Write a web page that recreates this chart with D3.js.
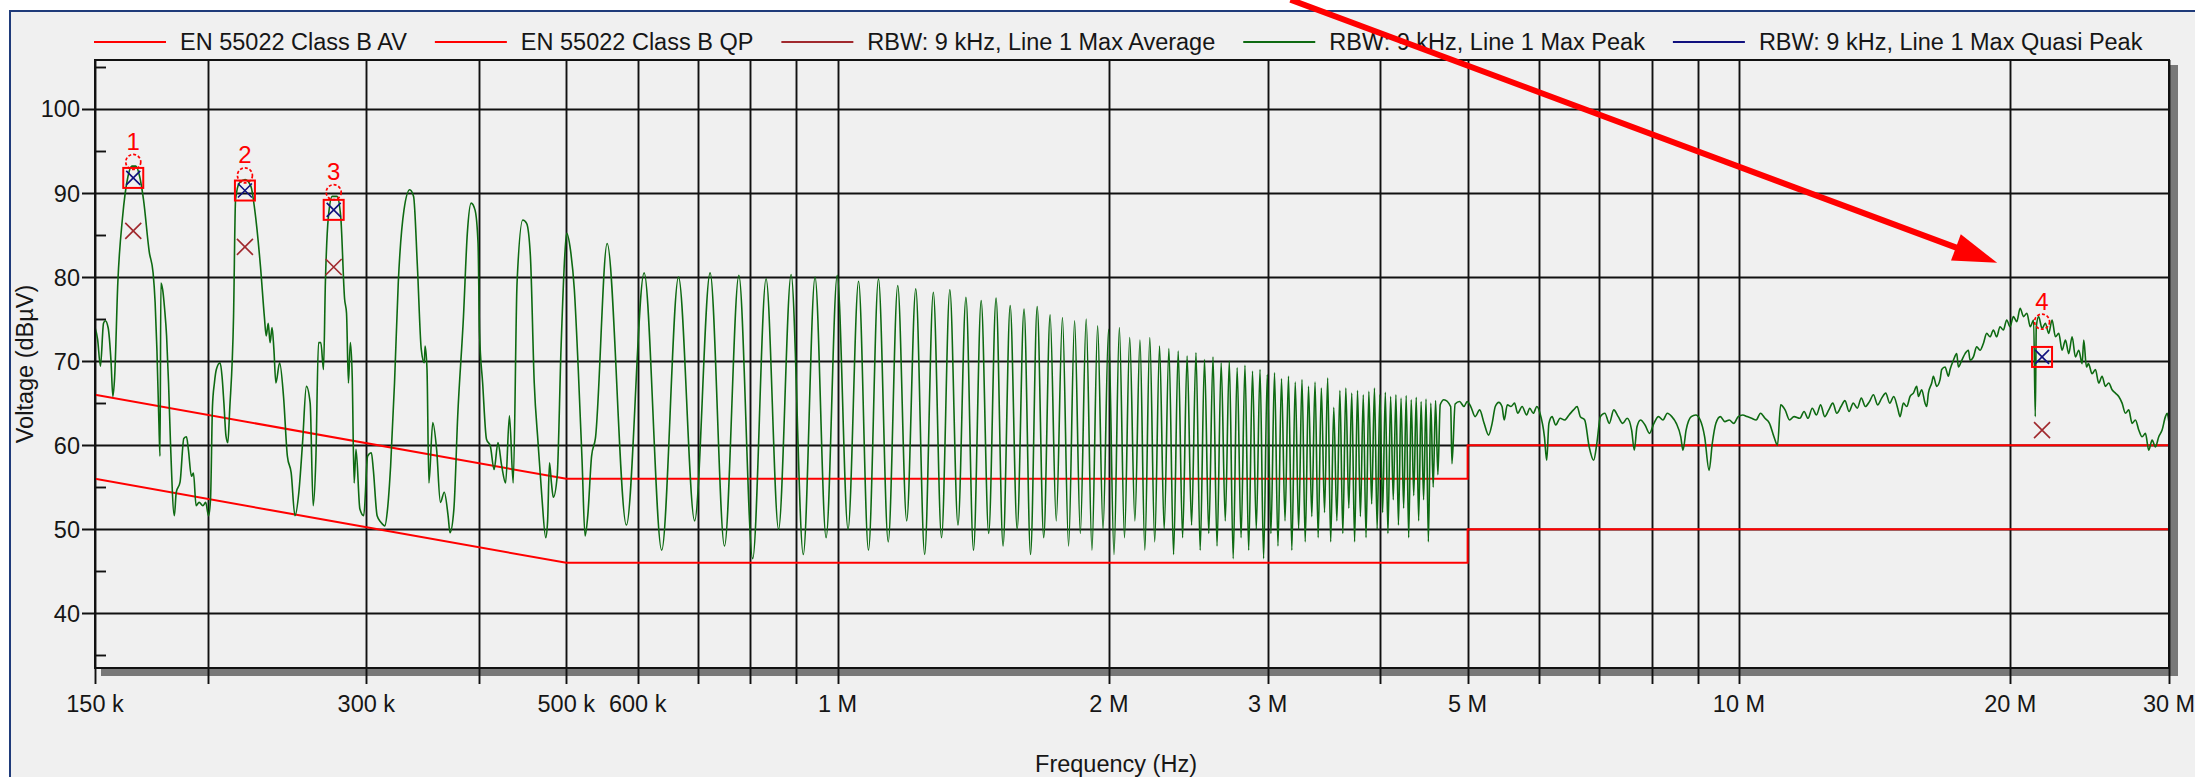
<!DOCTYPE html>
<html>
<head>
<meta charset="utf-8">
<script src="https://cdn.jsdelivr.net/npm/d3@7"></script>
<style>
  html, body { margin: 0; padding: 0; background: #ffffff; }
  svg { display: block; font-family: "Liberation Sans", Arial, sans-serif; }
</style>
</head>
<body>
<svg id="chart" width="2195" height="779"></svg>
<script>
// ---------------- data ----------------
const legendNames = [
  "EN 55022 Class B AV",
  "EN 55022 Class B QP",
  "RBW: 9 kHz, Line 1 Max Average",
  "RBW: 9 kHz, Line 1 Max Peak",
  "RBW: 9 kHz, Line 1 Max Quasi Peak"
];

// limit lines, [kHz, dBµV]
const limitAV = [[150, 56], [500, 46], [5000, 46], [5000, 50], [30000, 50]];
const limitQP = [[150, 66], [500, 56], [5000, 56], [5000, 60], [30000, 60]];

// max peak trace, 150 kHz – 540 kHz
const peakLow = [
  [150,74],[151,72.6],[152.1,69.4],[153.3,74.5],[154,74.8],[155.1,74],[156.3,69.8],[157,65.8],[157.7,68],
  [159,79.3],[160.9,87],[163.2,92],[164.8,93.2],[166.5,93.2],[168.1,92],[169.8,89.2],[172.3,83],[174,80.5],
  [174.9,77],[175.7,71.4],[176.6,62.7],[177.1,58.7],[177.5,79.3],[178.3,78.5],[179.2,76.2],[180.1,73],
  [181,67.4],[181.9,60.3],[183.7,51.6],[184.6,54.4],[186.4,55.6],[188.2,60.8],[189.5,61],[190.4,59.5],
  [191.9,56.3],[192.9,56.7],[194.2,52.8],[195.7,53.2],[197.6,52.8],[199,53.2],[200.5,51.6],[201.5,53.6],
  [202.5,64.6],[203.5,67.4],[204.5,69],[206.5,69.8],[207.5,68.2],[208.5,65],[209.6,61.1],[210.6,60.3],
  [211.6,64.2],[213.7,75.3],[214.8,89.2],[216.9,91.2],[220.1,91.6],[223.4,90.8],[225.6,88],[228.9,81.3],
  [231.2,75.3],[232.3,73],[233.5,74.5],[234.6,72.2],[235.8,74],[236.9,71.4],[238.1,67.4],[240.4,69.8],
  [242.8,65.8],[245.2,58.7],[247.6,56.7],[250,51.6],[252.5,54.4],[254.9,60.3],[257.4,67],[259.9,65],
  [261.9,52.8],[263.7,58.3],[265.5,72.2],[267.1,72.2],[268.9,69],[270.2,79.3],[272.3,87.2],[275,89.6],
  [278.3,89.6],[281,87.2],[283.8,77.4],[285.2,75.7],[286.6,67.4],[288,72.2],[289.4,68],[290.8,55.5],
  [292.2,59.5],[295.1,52.4],[298,51.6],[301,58.7],[303.9,59.1],[305.4,57.1],[308.4,51.6],[311.5,50.8],
  [314.5,50.4],[316.7,52.4],[319.2,57.5],[322.4,67.4],[325.5,79.3],[330.3,88],[335.2,90.4],[338.5,89.6],
  [341.8,81.3],[345.2,71.4],[347.9,69.8],[348.6,71.8],[350.3,69],[352,55.5],[355.5,62.7],[359,59.5],
  [362.5,53.2],[366.1,54.4],[369.7,51.6],[371.5,49.6],[375.2,52.4],[378.9,63.5],[384.5,75.3],[388.3,85.2],
  [392.1,88.8],[396,88],[399.1,84],[400.6,73.4],[403.8,67.4],[407.8,60.7],[411.8,59.9],[415.8,57.1],
  [419.9,60.3],[424,57.5],[428.2,55.5],[432.4,63.5],[436.6,55.5],[440.9,79.3],[447.4,86.8],[451.8,86.4],
  [456.2,82.5],[460.7,67.4],[465.2,60.3],[469.8,53.8],[474.4,49],[476.7,51],[479,57.9],[481.4,55.5],
  [483.7,53.8],[488.5,56.3],[493.3,71.4],[498.1,82.6],[500.5,85.2],[505.4,83.2],[510.4,78.5],[515.4,69.3],
  [520.5,58.3],[524.6,49.2],[528.2,51.6],[533.4,58.7],[538.6,60.8]
];

// max peak trace, harmonic comb 555 kHz – 4.7 MHz (peak / valley pairs)
const peakComb = [
  [555,84.0],[583,50.5],[610,80.5],[638,47.5],[666,80.0],[694,51],[722,80.5],[749,48],[777,80.2],[805,46.5],
  [833,79.8],[860,50],[888,80.3],[916,47],[944,80.0],[971,49],[999,80.2],[1027,50],[1055,79.5],[1082,47.5],
  [1110,79.8],[1138,48.5],[1166,79.0],[1193,51],[1221,78.6],[1249,47],[1277,78.2],[1304,49],[1332,78.5],[1360,50.5],
  [1388,77.6],[1415,47.5],[1443,77.2],[1471,49.5],[1499,77.5],[1526,48],[1554,76.6],[1582,50],[1610,76.2],[1637,47],
  [1665,76.5],[1693,49],[1721,75.5],[1748,51],[1776,75.2],[1804,48],[1832,74.8],[1859,49.5],[1887,75.0],[1915,47.5],
  [1943,74.2],[1970,50],[1998,73.8],[2026,47],[2054,74.0],[2081,49],[2109,72.8],[2137,51],[2165,72.5],[2192,47.5],
  [2220,72.8],[2248,48.5],[2276,71.8],[2303,50],[2331,71.5],[2359,47],[2387,71.2],[2414,49],[2442,70.6],[2470,50.5],
  [2498,71.0],[2525,47.5],[2553,70.2],[2581,49.5],[2609,70.5],[2636,48],[2664,69.8],[2692,51],[2720,70.0],[2747,46.5],
  [2775,69.2],[2803,49],[2831,69.5],[2858,47.5],[2886,68.8],[2914,50],[2942,69.0],[2969,46.5],[2997,68.4],[3025,49.5],
  [3053,68.6],[3080,48],[3108,67.9],[3136,51],[3164,68.2],[3191,47.5],[3219,67.5],[3247,50],[3275,67.8],[3302,48.5],
  [3330,67.0],[3358,51.5],[3386,67.5],[3413,49],[3441,66.8],[3469,52],[3497,68.0],[3524,48.5],[3552,64.5],[3580,51],
  [3608,66.5],[3635,49.5],[3663,66.8],[3691,52.5],[3719,66.2],[3746,48.5],[3774,66.5],[3802,51.5],[3830,66.0],[3857,49],
  [3885,66.4],[3913,53],[3941,66.8],[3968,50],[3996,66.0],[4024,52],[4052,66.3],[4079,49.5],[4107,65.8],[4135,53.5],
  [4163,66.0],[4190,50.5],[4218,65.6],[4246,52.5],[4274,65.9],[4301,49],[4329,65.4],[4357,54],[4385,65.7],[4412,51],
  [4440,65.2],[4468,53.5],[4496,65.5],[4523,48.5],[4551,65.0],[4579,55],[4607,65.3],[4634,56.5],[4662,64.8]
];

// max peak trace, 4.7 MHz – 30 MHz
const peakHigh = [
  [4706,65.4],[4788,64.6],[4804,57.8],[4843,64.9],[4898,65.2],[4954,64.6],[4994,65.2],[5040,64.6],[5097,63.4],
  [5156,64.2],[5215,62.6],[5275,61.2],[5323,62.6],[5366,64.6],[5415,65.1],[5459,64.6],[5490,63.0],[5534,64.8],
  [5585,64.6],[5637,65.0],[5682,63.8],[5747,64.6],[5813,63.6],[5860,64.4],[5913,63.8],[5968,64.6],[6015,63.8],
  [6084,61.0],[6119,58.2],[6154,62.6],[6204,63.4],[6261,62.4],[6333,63.2],[6405,63.0],[6479,63.6],[6553,64.2],
  [6614,64.6],[6667,63.4],[6743,63.0],[6821,59.8],[6899,58.2],[6955,60.2],[7019,63.4],[7099,63.8],[7180,62.6],
  [7263,64.2],[7346,63.4],[7430,62.6],[7516,63.2],[7602,61.8],[7654,59.4],[7707,62.2],[7778,63.0],[7867,62.4],
  [7957,61.4],[8048,62.6],[8141,63.4],[8234,63.0],[8328,63.8],[8424,63.4],[8521,62.6],[8619,61.0],[8668,59.4],
  [8737,61.8],[8853,63.4],[8955,63.6],[9058,63.0],[9161,61.0],[9266,57.0],[9341,60.2],[9428,62.6],[9536,63.4],
  [9645,62.8],[9756,63.0],[9868,62.6],[9981,63.4],[10096,63.6],[10212,63.4],[10329,63.2],[10447,63.0],
  [10567,63.8],[10688,63.2],[10811,62.6],[10935,61.0],[11035,60.0],[11124,64.8],[11251,64.2],[11380,63.0],
  [11511,63.4],[11683,63.2],[11810,64.0],[11930,63.2],[12060,64.4],[12190,63.6],[12320,64.8],[12450,63.4],
  [12580,64.2],[12710,65.0],[12840,63.8],[12980,64.6],[13110,65.3],[13250,64.0],[13390,65.0],[13530,64.4],
  [13670,65.6],[13810,64.6],[13960,65.2],[14100,66.0],[14250,64.8],[14400,65.6],[14550,66.2],[14700,65.0],
  [14850,65.8],[15000,64.4],[15092,63.4],[15221,65.0],[15351,64.6],[15483,65.8],[15615,66.2],[15749,67.0],
  [15816,65.8],[15951,66.6],[16087,65.0],[16156,64.6],[16225,66.2],[16363,67.4],[16433,68.2],[16573,67.0],
  [16715,67.8],[16787,69.0],[16930,69.3],[17076,68.2],[17148,69.0],[17295,70.1],[17443,70.9],[17516,69.3],
  [17668,70.1],[17819,70.9],[17971,71.3],[18048,70.1],[18200,70.5],[18356,71.7],[18513,71.3],[18671,72.1],
  [18831,73.3],[18992,72.9],[19154,73.7],[19318,72.9],[19482,74.1],[19649,73.7],[19817,74.9],[19987,74.1],
  [20160,75.3],[20335,74.7],[20511,76.3],[20688,75.3],[20866,75.7],[21046,74.1],[21229,74.9],[21319,63.4],
  [21374,74.1],[21503,75.3],[21690,73.9],[21876,74.5],[22063,73.3],[22254,74.9],[22444,72.9],[22637,73.3],
  [22830,71.3],[23026,72.5],[23223,70.9],[23422,72.9],[23622,70.5],[23824,71.3],[24028,69.7],[24130,72.5],
  [24296,69.3],[24420,69.7],[24648,68.5],[24859,69.0],[25071,67.4],[25285,68.2],[25502,67.0],[25720,67.4],
  [25940,66.6],[26162,66.2],[26386,65.8],[26612,65.0],[26839,63.8],[27069,64.2],[27300,62.6],[27534,63.0],
  [27770,61.8],[28007,61.0],[28247,61.4],[28488,59.4],[28732,60.6],[28978,59.8],[29225,61.0],[29475,61.8],
  [29728,63.4],[29861,63.8],[30000,62.6]
];

// final measurement markers: peak, quasi-peak and average readings
const markerIds  = [1, 2, 3, 4];
const markerKHz  = [165.4, 220, 276, 21690];
const markerPeak = [93.7, 92.1, 90.1, 74.7];
const markerQP   = [91.8, 90.3, 88.0, 70.5];
const markerAV   = [85.5, 83.6, 81.2, 61.8];

// axis ticks
const yMajor = [40, 50, 60, 70, 80, 90, 100];
const yMinor = [35, 45, 55, 65, 75, 85, 95, 105];
const xGrid = [200, 300, 400, 500, 600, 700, 800, 900, 1000, 2000, 3000, 4000, 5000,
               6000, 7000, 8000, 9000, 10000, 20000];
const xTickValues = [150, 300, 500, 600, 1000, 2000, 3000, 5000, 10000, 20000, 30000];
const xTickLabels = ["150 k", "300 k", "500 k", "600 k", "1 M", "2 M", "3 M", "5 M", "10 M", "20 M", "30 M"];

// call-out arrow, [kHz, dBµV]
const arrowFrom = [3180, 113];
const arrowTo = [19340, 81.7];

// ---------------- drawing ----------------
const svg = d3.select("#chart");
const W = 2195, H = 779;
const plot = { left: 95, right: 2169, top: 60, bottom: 668 };
const FONT = 23.5;

const x = d3.scaleLog().domain([150, 30000]).range([plot.left, plot.right]);
const y = d3.scaleLinear().domain([33.49, 105.83]).range([plot.bottom, plot.top]);

const C = {
  panel: "#f0f0f0", frame: "#1f3b7a", grid: "#111111", limit: "#ff0000",
  avg: "#a0282d", peak: "#0e6a12", qp: "#10107e", shadow: "#787878", text: "#161616"
};

// window panel
svg.append("rect").attr("x", 0).attr("y", 0).attr("width", W).attr("height", H).attr("fill", "#ffffff");
svg.append("rect").attr("x", 10).attr("y", 11).attr("width", W - 10).attr("height", 777 - 11).attr("fill", C.panel);
svg.append("path").attr("d", `M10,777 V11 H${W}`).attr("fill", "none").attr("stroke", C.frame).attr("stroke-width", 2);

// plot drop shadow + background
svg.append("rect").attr("x", plot.left + 6).attr("y", plot.top + 5)
  .attr("width", plot.right - plot.left + 3).attr("height", plot.bottom - plot.top + 3)
  .attr("fill", C.shadow);
svg.append("rect").attr("x", plot.left).attr("y", plot.top)
  .attr("width", plot.right - plot.left).attr("height", plot.bottom - plot.top)
  .attr("fill", C.panel);

// grid: vertical lines extend below the frame as ticks
const gridG = svg.append("g").attr("stroke", C.grid).attr("stroke-width", 1.9);
gridG.selectAll("line.v").data(xGrid.concat([150, 30000])).join("line")
  .attr("x1", d => Math.round(x(d)) + 0.5).attr("x2", d => Math.round(x(d)) + 0.5)
  .attr("y1", plot.top).attr("y2", plot.bottom + 16);
gridG.selectAll("line.h").data(yMajor).join("line")
  .attr("x1", plot.left - 13).attr("x2", plot.right)
  .attr("y1", d => Math.round(y(d)) + 0.5).attr("y2", d => Math.round(y(d)) + 0.5);
gridG.selectAll("line.m").data(yMinor).join("line")
  .attr("x1", plot.left).attr("x2", plot.left + 11)
  .attr("y1", d => Math.round(y(d)) + 0.5).attr("y2", d => Math.round(y(d)) + 0.5);

// clip for data
svg.append("clipPath").attr("id", "plotClip").append("rect")
  .attr("x", plot.left).attr("y", plot.top)
  .attr("width", plot.right - plot.left).attr("height", plot.bottom - plot.top);
const dataG = svg.append("g").attr("clip-path", "url(#plotClip)");

const straight = d3.line().x(d => x(d[0])).y(d => y(d[1]));
dataG.append("path").datum(limitAV).attr("d", straight)
  .attr("fill", "none").attr("stroke", C.limit).attr("stroke-width", 2);
dataG.append("path").datum(limitQP).attr("d", straight)
  .attr("fill", "none").attr("stroke", C.limit).attr("stroke-width", 2);

const trace = peakLow.concat(peakComb, peakHigh);
const smooth = d3.line().x(d => x(d[0])).y(d => y(d[1])).curve(d3.curveMonotoneX);
dataG.append("path").datum(trace).attr("d", smooth)
  .attr("fill", "none").attr("stroke", C.peak).attr("stroke-width", 1.6)
  .attr("stroke-linejoin", "round");

// markers
const markers = markerIds.map((id, i) => ({
  id, f: markerKHz[i], pk: markerPeak[i], qp: markerQP[i], av: markerAV[i]
}));
const mG = svg.append("g");
const cross = (cx, cy, r) => `M${cx - r},${cy - r}L${cx + r},${cy + r}M${cx - r},${cy + r}L${cx + r},${cy - r}`;
markers.forEach(m => {
  const mx = x(m.f);
  mG.append("circle").attr("cx", mx).attr("cy", y(m.pk)).attr("r", 7.5)
    .attr("fill", "none").attr("stroke", C.limit).attr("stroke-width", 1.7)
    .attr("stroke-dasharray", "3,2");
  mG.append("path").attr("d", cross(mx, y(m.av), 8))
    .attr("stroke", C.avg).attr("stroke-width", 1.6).attr("fill", "none");
  mG.append("path").attr("d", cross(mx, y(m.qp), 7))
    .attr("stroke", C.qp).attr("stroke-width", 1.6).attr("fill", "none");
  mG.append("rect").attr("x", mx - 10).attr("y", y(m.qp) - 10).attr("width", 20).attr("height", 20)
    .attr("fill", "none").attr("stroke", C.limit).attr("stroke-width", 2);
  mG.append("text").attr("x", mx).attr("y", y(m.pk) - 12).attr("text-anchor", "middle")
    .attr("font-size", 24).attr("fill", C.limit).text(m.id);
});

// plot frame
svg.append("rect").attr("x", plot.left).attr("y", plot.top)
  .attr("width", plot.right - plot.left).attr("height", plot.bottom - plot.top)
  .attr("fill", "none").attr("stroke", "#111").attr("stroke-width", 2);

// axis labels
svg.append("g").selectAll("text").data(yMajor).join("text")
  .attr("x", plot.left - 15).attr("y", d => y(d) + 8.5).attr("text-anchor", "end")
  .attr("font-size", FONT).attr("fill", C.text).text(d => d);
svg.append("g").selectAll("text").data(xTickValues).join("text")
  .attr("x", d => x(d)).attr("y", 712).attr("text-anchor", "middle")
  .attr("font-size", FONT).attr("fill", C.text).text((d, i) => xTickLabels[i]);
svg.append("text").attr("x", 1116).attr("y", 772).attr("text-anchor", "middle")
  .attr("font-size", FONT).attr("fill", C.text).text("Frequency (Hz)");
svg.append("text").attr("transform", `translate(33,${(plot.top + plot.bottom) / 2}) rotate(-90)`)
  .attr("text-anchor", "middle").attr("font-size", FONT).attr("fill", C.text).text("Voltage (dBµV)");

// legend (flow layout)
const legendColors = [C.limit, C.limit, C.avg, C.peak, C.qp];
let lx = 94;
legendNames.forEach((name, i) => {
  svg.append("line").attr("x1", lx).attr("x2", lx + 72).attr("y1", 42).attr("y2", 42)
    .attr("stroke", legendColors[i]).attr("stroke-width", 2);
  const t = svg.append("text").attr("x", lx + 86).attr("y", 49.5)
    .attr("font-size", FONT).attr("fill", C.text).text(name);
  lx = lx + 86 + t.node().getComputedTextLength() + 28;
});

// call-out arrow
const p0 = [x(arrowFrom[0]), y(arrowFrom[1])];
const p1 = [x(arrowTo[0]), y(arrowTo[1])];
const dx = p1[0] - p0[0], dy = p1[1] - p0[1];
const len = Math.hypot(dx, dy), ux = dx / len, uy = dy / len;
const headL = 44, headW = 14;
const base = [p1[0] - ux * headL, p1[1] - uy * headL];
svg.append("line").attr("x1", p0[0]).attr("y1", p0[1])
  .attr("x2", base[0] + ux * 4).attr("y2", base[1] + uy * 4)
  .attr("stroke", "#ff0000").attr("stroke-width", 6);
svg.append("path")
  .attr("d", `M${p1[0]},${p1[1]}L${base[0] - uy * headW},${base[1] + ux * headW}L${base[0] + uy * headW},${base[1] - ux * headW}Z`)
  .attr("fill", "#ff0000");
</script>
</body>
</html>
